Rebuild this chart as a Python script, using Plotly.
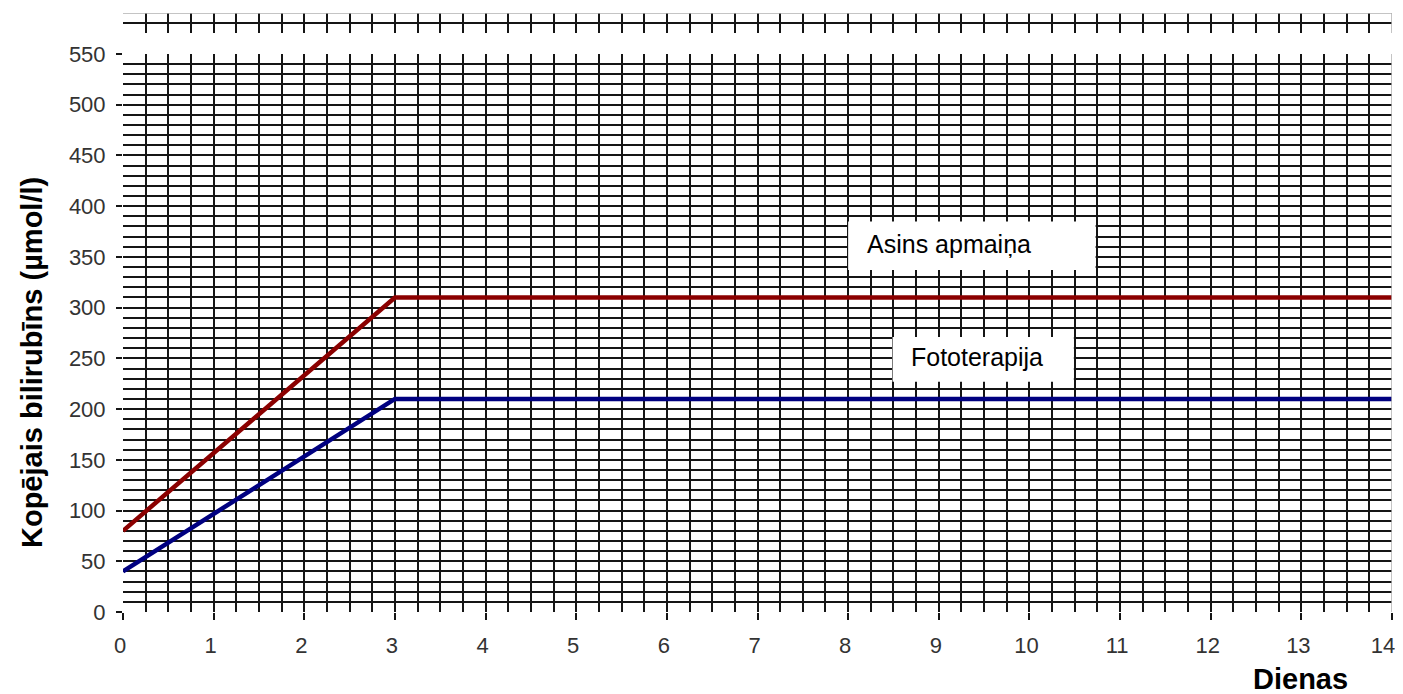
import plotly.graph_objects as go

days_exchange = [0, 3, 14]
bili_exchange = [80, 310, 310]
days_photo = [0, 3, 14]
bili_photo = [40, 210, 210]
x_ticks = list(range(0, 15))
y_ticks = list(range(0, 551, 50))
label_exchange = "Asins apmaiņa"
label_photo = "Fototerapija"
y_title = "Kopējais bilirubīns (µmol/l)"
x_title = "Dienas"

GRID = "#151515"
GW = 1.7
FONT = "Liberation Sans, Arial, sans-serif"

# the page body adds an 8px offset; the figure is sized to fill the window from there
OFF = 8
PL, PR, PT, PB = 123, 1392, 13, 612  # window pixel box of plotting region (incl. top strip)

# last label padded with a figure space so it stays inside the window edge
x_ticktext = [str(v) for v in x_ticks[:-1]] + [str(x_ticks[-1]) + "\u2007"]

fig = go.Figure()
fig.add_trace(go.Scatter(x=days_exchange, y=bili_exchange, mode="lines",
                         line=dict(color="#8b0000", width=4.5), cliponaxis=False,
                         showlegend=False, hoverinfo="skip"))
fig.add_trace(go.Scatter(x=days_photo, y=bili_photo, mode="lines",
                         line=dict(color="#000080", width=4.5), cliponaxis=False,
                         showlegend=False, hoverinfo="skip"))
# invisible trace for the top strip axes
fig.add_trace(go.Scatter(x=[0, 14], y=[0, 2], xaxis="x2", yaxis="y2", mode="none",
                         showlegend=False, hoverinfo="skip"))

W, H = 1403 - OFF, 694 - OFF
pw = PR - PL
ph = PB - PT
H_MAIN = (PB - 54) / ph
fig.update_layout(
    width=W, height=H,
    margin=dict(l=PL - OFF, r=W - (PR - OFF), t=PT - OFF, b=H - (PB - OFF), autoexpand=False),
    paper_bgcolor="white", plot_bgcolor="white",
    font=dict(family=FONT, color="#333333", size=22),
    xaxis=dict(range=[0, 14], tickvals=x_ticks, ticktext=x_ticktext, ticks="outside", ticklen=7,
               tickcolor=GRID, tickwidth=GW, showgrid=True, gridcolor=GRID, gridwidth=GW,
               minor=dict(dtick=0.25, showgrid=True, gridcolor=GRID, gridwidth=GW),
               zeroline=False, showline=False, ticklabelstandoff=7, ticklabelshift=-3,
               automargin=False, ticklabeloverflow="allow", domain=[0, 1], anchor="y"),
    yaxis=dict(range=[0, 550], tickvals=y_ticks, ticks="outside", ticklen=6,
               tickcolor=GRID, tickwidth=GW, showgrid=True, gridcolor=GRID, gridwidth=GW,
               minor=dict(dtick=10, showgrid=True, gridcolor=GRID, gridwidth=GW),
               zeroline=False, showline=False, ticklabelstandoff=6, automargin=False,
               ticklabeloverflow="allow", domain=[0, H_MAIN], anchor="x"),
    xaxis2=dict(range=[0, 14], matches="x", anchor="y2", showticklabels=False,
                showgrid=True, gridcolor=GRID, gridwidth=GW, automargin=False,
                minor=dict(dtick=0.25, showgrid=True, gridcolor=GRID, gridwidth=GW),
                dtick=1, zeroline=False, showline=False, ticks=""),
    yaxis2=dict(range=[0, 2], domain=[(PB - 33) / ph, 1], anchor="x2", automargin=False,
                showticklabels=False, tickvals=[1], showgrid=True, gridcolor=GRID,
                gridwidth=GW, zeroline=False, showline=False, ticks=""),
)

shapes = [
    dict(type="line", xref="x", yref="y", x0=14, x1=14, y0=0, y1=550,
         line=dict(color="#b0b0b0", width=1.5), layer="above"),
    dict(type="line", xref="x2", yref="y2", x0=0, x1=14, y0=2, y1=2,
         line=dict(color="#b0b0b0", width=1.5), layer="above"),
    dict(type="line", xref="x2", yref="y2", x0=14, x1=14, y0=0, y1=2,
         line=dict(color="#b0b0b0", width=1.5), layer="above"),
    dict(type="rect", xref="x", yref="y", x0=8.0, x1=10.73, y0=337, y1=385,
         fillcolor="white", line=dict(width=0), layer="between"),
    dict(type="rect", xref="x", yref="y", x0=8.49, x1=10.49, y0=227, y1=271,
         fillcolor="white", line=dict(width=0), layer="between"),
]
fig.update_layout(shapes=shapes)

fig.add_annotation(x=8.19, y=363, xref="x", yref="y", text=label_exchange,
                   showarrow=False, xanchor="left", yanchor="middle",
                   font=dict(family=FONT, size=25, color="black"))
fig.add_annotation(x=8.67, y=251, xref="x", yref="y", text=label_photo,
                   showarrow=False, xanchor="left", yanchor="middle",
                   font=dict(family=FONT, size=25, color="black"))
fig.add_annotation(x=32, y=363, xref="paper", yref="paper", text=y_title,
                   showarrow=False, textangle=-90, xanchor="center", yanchor="middle",
                   font=dict(family=FONT, size=29, color="black", weight="bold"))
fig.add_annotation(x=1300, y=679, xref="paper", yref="paper", text=x_title,
                   showarrow=False, xanchor="center", yanchor="middle",
                   font=dict(family=FONT, size=29, color="black", weight="bold"))

# convert window pixel positions for title annotations to paper coords
for a in fig.layout.annotations[2:]:
    px, py = a.x, a.y
    a.x = (px - PL) / pw
    a.y = (PB - py) / ph

fig.write_html("out.html")
